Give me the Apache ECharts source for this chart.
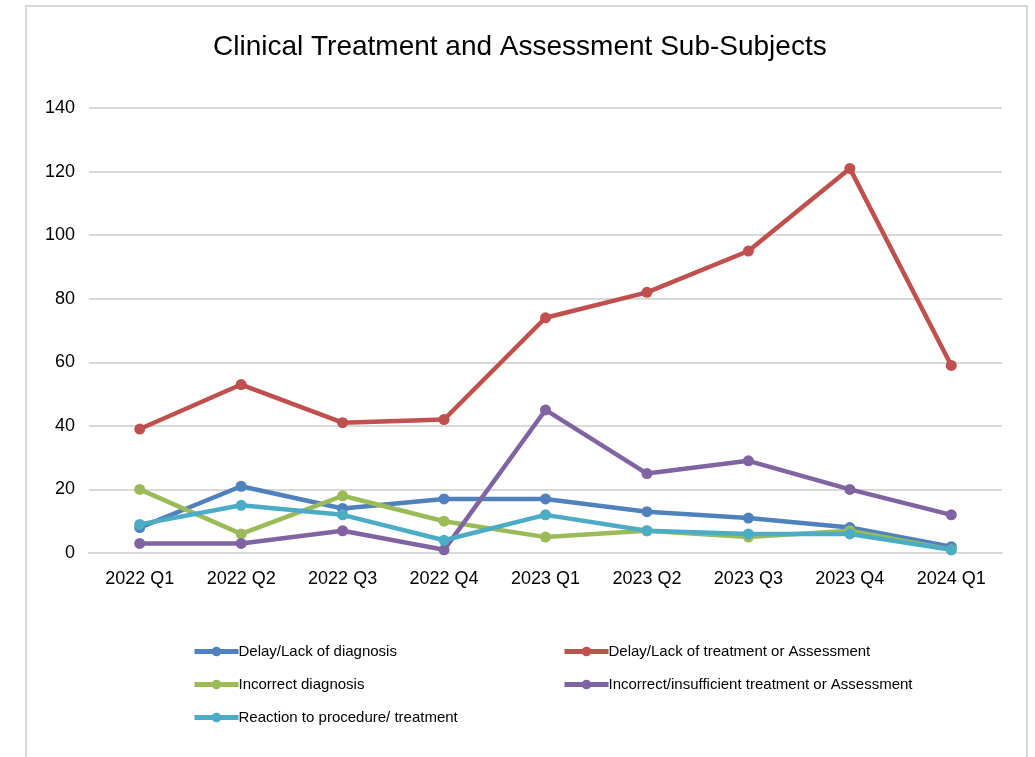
<!DOCTYPE html>
<html><head><meta charset="utf-8">
<script src="https://cdn.jsdelivr.net/npm/echarts@6/dist/echarts.min.js"></script>
<style>html,body{margin:0;padding:0;background:#fff;}#c{width:1035px;height:757px;}</style>
</head><body><div id="c"></div>
<script>
const categories = ['2022 Q1','2022 Q2','2022 Q3','2022 Q4','2023 Q1','2023 Q2','2023 Q3','2023 Q4','2024 Q1'];
const delayDiagnosis = [8, 21, 14, 17, 17, 13, 11, 8, 2];
const delayTreatment = [39, 53, 41, 42, 74, 82, 95, 121, 59];
const incorrectDiagnosis = [20, 6, 18, 10, 5, 7, 5, 7, 1];
const incorrectTreatment = [3, 3, 7, 1, 45, 25, 29, 20, 12];
const reaction = [9, 15, 12, 4, 12, 7, 6, 6, 1];
const seriesNames = ['Delay/Lack of diagnosis','Delay/Lack of treatment or Assessment','Incorrect diagnosis','Incorrect/insufficient treatment or Assessment','Reaction to procedure/ treatment'];
const colors = ['#4f81bd','#c0504d','#9bbb59','#8064a2','#4bacc6'];
const seriesData = [delayDiagnosis, delayTreatment, incorrectDiagnosis, incorrectTreatment, reaction];

const font = '"Liberation Sans", Arial, sans-serif';
const chart = echarts.init(document.getElementById('c'));
const legendCommon = {
  orient: 'vertical', itemWidth: 44, itemHeight: 12, itemGap: 18,
  lineStyle: {width: 5},
  textStyle: {fontFamily: font, fontSize: 15, color: '#000', padding: [0,0,0,-5]}
};
chart.setOption({
  animation: false,
  backgroundColor: '#fff',
  title: {text: 'Clinical Treatment and Assessment Sub-Subjects', left: 208, top: 28,
    textStyle: {fontFamily: font, fontSize: 28, fontWeight: 'normal', color: '#000'}},
  graphic: [{type: 'rect', shape: {x: 26, y: 6, width: 1001, height: 800}, style: {fill: 'none', stroke: '#d9d9d9', lineWidth: 2}, silent: true}],
  grid: {left: 89, right: 33, top: 108, bottom: 204},
  legend: [
    Object.assign({}, legendCommon, {left: 187, top: 639, data: [seriesNames[0], seriesNames[2], seriesNames[4]]}),
    Object.assign({}, legendCommon, {left: 557, top: 639, data: [seriesNames[1], seriesNames[3]]})
  ],
  xAxis: {type: 'category', data: categories, boundaryGap: true,
    axisLine: {lineStyle: {color: '#d9d9d9', width: 2}}, axisTick: {show: false},
    axisLabel: {fontFamily: font, fontSize: 18, color: '#000', margin: 17, interval: 0}},
  yAxis: {type: 'value', min: 0, max: 140, interval: 20,
    axisLine: {show: false}, axisTick: {show: false},
    splitLine: {lineStyle: {color: '#d9d9d9', width: 2}},
    axisLabel: {fontFamily: font, fontSize: 18, color: '#000', margin: 14}},
  series: seriesData.map((d, i) => ({
    name: seriesNames[i], type: 'line', data: d, color: colors[i],
    symbol: 'circle', symbolSize: 11,
    lineStyle: {width: 4.5, color: colors[i]}, itemStyle: {color: colors[i]}
  }))
});
</script></body></html>
